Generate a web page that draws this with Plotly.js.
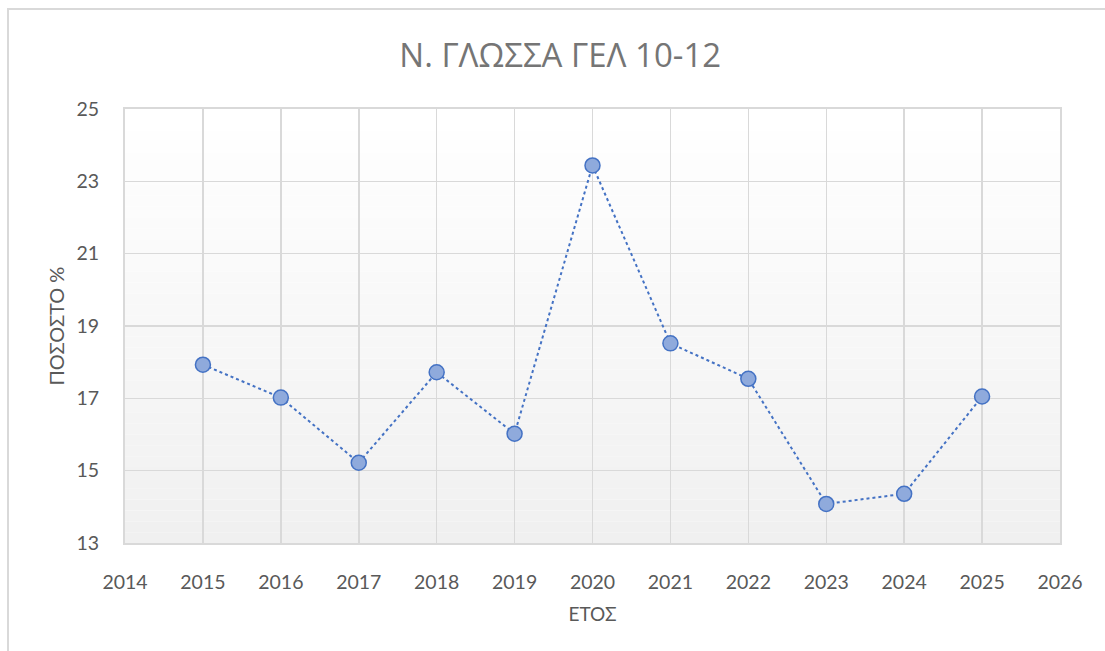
<!DOCTYPE html>
<html>
<head>
<meta charset="utf-8">
<script src="https://cdn.plot.ly/plotly-3.0.1.min.js"></script>
<style>
  html, body { margin: 0; padding: 0; background: #ffffff; overflow: hidden; }
  #frame { position: absolute; left: 7px; top: 8px; width: 1300px; height: 900px;
           border: 2px solid #d9d9d9; box-sizing: border-box; z-index: 0; }
  #chart { position: absolute; left: 0; top: 0; width: 1105px; height: 651px; z-index: 1; }
</style>
</head>
<body>
<div id="frame"></div>
<div id="chart"></div>
<script>
const years = [2015, 2016, 2017, 2018, 2019, 2020, 2021, 2022, 2023, 2024, 2025];
const percentages = [17.93, 17.02, 15.22, 17.72, 16.02, 23.44, 18.52, 17.54, 14.08, 14.36, 17.05];
const chartTitle = 'Ν. ΓΛΩΣΣΑ ΓΕΛ 10-12';
const xTitle = 'ΕΤΟΣ';
const yTitle = 'ΠΟΣΟΣΤΟ %';

// vertical gradient background bands for plot area (white top -> light grey bottom)
const bands = [];
const nBands = 40;
for (let i = 0; i < nBands; i++) {
  const t = i / (nBands - 1);
  const v = Math.round(240 + 15 * t);
  bands.push({
    type: 'rect', xref: 'paper', yref: 'paper', layer: 'below',
    x0: 0, x1: 1, y0: i / nBands, y1: (i + 1) / nBands,
    fillcolor: `rgb(${v},${v},${v})`, line: { width: 0 }
  });
}

const trace = {
  x: years, y: percentages, type: 'scatter', mode: 'lines+markers',
  line: { color: '#4472c4', width: 2, dash: 'dot' },
  marker: { size: 15, color: '#8faadc', line: { color: '#4472c4', width: 1.5 } },
  hoverinfo: 'x+y'
};

const layout = {
  width: 1105, height: 651,
  paper_bgcolor: 'rgba(0,0,0,0)', plot_bgcolor: 'rgba(0,0,0,0)',
  margin: { l: 125, r: 45, t: 109, b: 108 },
  font: { family: 'Lato, "Open Sans", sans-serif', color: '#595959' },
  title: { text: chartTitle, x: 0.507, xanchor: 'center', y: 0.915, yanchor: 'middle',
           font: { size: 33, color: '#757575', family: '"Open Sans", Lato, sans-serif' } },
  showlegend: false,
  shapes: bands,
  xaxis: {
    range: [2014, 2026], dtick: 1, tick0: 2014, showgrid: true, gridcolor: '#d9d9d9', gridwidth: 1.5,
    zeroline: false, showline: true, linecolor: '#d9d9d9', linewidth: 2, mirror: true,
    ticks: '', ticklabelstandoff: 21,
    tickfont: { size: 19.5, color: '#595959' },
    title: { text: xTitle, standoff: 15, font: { size: 19, color: '#595959' } }
  },
  yaxis: {
    range: [13, 25], dtick: 2, tick0: 13, showgrid: true, gridcolor: '#d9d9d9', gridwidth: 1.5,
    zeroline: false, showline: true, linecolor: '#d9d9d9', linewidth: 2, mirror: true,
    ticks: '', ticklabelstandoff: 20,
    tickfont: { size: 19.5, color: '#595959' },
    title: { text: yTitle, standoff: 6, font: { size: 20, color: '#595959' } }
  }
};

Plotly.newPlot('chart', [trace], layout, { displayModeBar: false, staticPlot: true });
</script>
</body>
</html>
